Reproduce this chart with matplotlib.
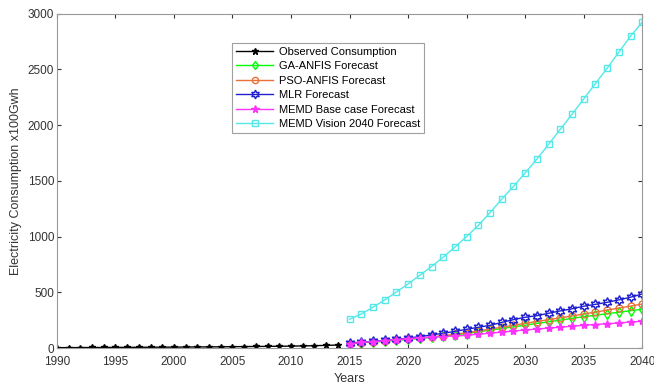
import matplotlib.pyplot as plt
import numpy as np

plt.rcParams['font.family'] = ['Liberation Sans', 'DejaVu Sans']

years_obs = list(range(1990, 2015))
years_fc = list(range(2015, 2041))

observed = [3, 4, 4, 5, 5, 6, 6, 7, 7, 8, 8, 9, 10, 10, 11, 12, 13, 14, 15, 16, 17, 19, 21, 24, 27]
ga_anfis = [40, 47, 54, 61, 69, 77, 86, 96, 106, 118, 130, 145, 160, 175, 190, 205,
            220, 235, 250, 266, 281, 294, 308, 321, 335, 348]
pso_anfis = [40, 48, 55, 63, 72, 80, 90, 100, 111, 123, 137, 153, 170, 187, 204, 222,
             238, 254, 271, 288, 305, 322, 340, 358, 376, 395]
mlr = [45, 52, 60, 68, 78, 90, 102, 118, 132, 150, 168, 186, 204, 230, 255, 276,
       290, 312, 333, 352, 375, 392, 410, 432, 456, 485]
memd_base = [40, 50, 58, 66, 76, 85, 91, 97, 103, 108, 114, 124, 133, 143, 152, 162,
             170, 179, 187, 196, 204, 211, 218, 225, 233, 240]
memd_vision = [258, 305, 366, 431, 503, 575, 653, 731, 815, 905, 1000, 1100, 1215, 1336,
               1450, 1570, 1695, 1827, 1962, 2096, 2234, 2372, 2510, 2653, 2797, 2923]

fig = plt.figure(figsize=(6.54, 3.88), dpi=100)
ax = fig.add_axes([0.087, 0.103, 0.895, 0.862])

ms = 5
hexagram = (6, 1, 0)
ax.plot(years_obs, observed, '-*', color='black', ms=ms, lw=1, label='Observed Consumption')
ax.plot(years_fc, ga_anfis, '-d', color='#00ff00', mfc='none', ms=ms, lw=1, label='GA-ANFIS Forecast')
ax.plot(years_fc, pso_anfis, '-o', color='#e8703a', mfc='none', ms=ms, lw=1, label='PSO-ANFIS Forecast')
ax.plot(years_fc, mlr, '-', marker=hexagram, color='#1f1fd0', mfc='none', ms=ms + 2, lw=1, label='MLR Forecast')
ax.plot(years_fc, memd_base, '-*', color='#ff33ff', ms=ms + 1, lw=1, label='MEMD Base case Forecast')
ax.plot(years_fc, memd_vision, '-s', color='#55e8e8', mfc='none', ms=ms, lw=1, label='MEMD Vision 2040 Forecast')

ax.set_xlim(1990, 2040)
ax.set_ylim(0, 3000)
ax.set_xticks(np.arange(1990, 2041, 5))
ax.set_yticks(np.arange(0, 3001, 500))
ax.tick_params(direction='in', top=True, right=True, labelsize=8.5, colors='#333333', length=3)
ax.tick_params(axis='x', pad=5.5)
ax.tick_params(axis='y', pad=2)
for s in ax.spines.values():
    s.set_color('#999999')

ax.set_xlabel('Years', fontsize=9, color='#333333', labelpad=4)
ax.set_ylabel('Electricity Consumption x100Gwh', fontsize=9, color='#333333', labelpad=4)

leg = ax.legend(loc='upper left', bbox_to_anchor=(0.30, 0.912), fontsize=8, frameon=True,
                fancybox=False, edgecolor='#888888', borderaxespad=0, handlelength=3.3,
                labelspacing=0.4, borderpad=0.35, handletextpad=0.5, markerscale=0.9)
leg.get_frame().set_linewidth(0.8)

fig.savefig('out.png', dpi=100)
